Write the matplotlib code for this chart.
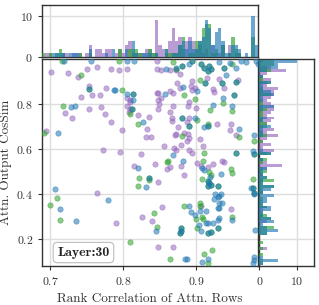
import numpy as np
import matplotlib
matplotlib.use("Agg")
import matplotlib.pyplot as plt

plt.rcParams['font.family'] = ['cmr10', 'DejaVu Serif']
plt.rcParams['axes.formatter.use_mathtext'] = True
plt.rcParams['mathtext.fontset'] = 'cm'

purple = [
    (0.701,0.944),(0.725,0.936),(0.738,0.920),(0.750,0.954),(0.764,0.964),(0.784,0.957),(0.753,0.880),
    (0.777,0.870),(0.743,0.832),(0.757,0.840),(0.769,0.839),(0.753,0.776),(0.770,0.787),(0.720,0.761),
    (0.776,0.757),(0.730,0.738),(0.783,0.721),(0.695,0.681),(0.773,0.597),
    (0.847,0.990),(0.794,0.950),(0.806,0.954),(0.846,0.957),(0.852,0.951),(0.865,0.950),(0.873,0.950),
    (0.878,0.932),(0.874,0.895),(0.878,0.870),(0.806,0.828),(0.810,0.818),(0.846,0.850),(0.848,0.848),
    (0.852,0.828),(0.865,0.858),(0.869,0.848),(0.849,0.801),(0.805,0.791),(0.810,0.776),(0.848,0.779),
    (0.869,0.791),(0.808,0.765),(0.821,0.751),(0.835,0.744),(0.865,0.766),(0.867,0.736),(0.867,0.724),
    (0.799,0.684),(0.833,0.690),(0.876,0.700),(0.871,0.662),(0.873,0.665),(0.884,0.670),(0.831,0.654),
    (0.839,0.655),(0.856,0.613),(0.796,0.588),(0.825,0.576),(0.870,0.606),(0.873,0.594),(0.880,0.616),
    (0.895,0.902),(0.893,0.880),(0.898,0.872),(0.895,0.862),(0.915,0.914),(0.923,0.866),(0.925,0.854),
    (0.932,0.910),(0.939,0.870),(0.958,0.905),(0.891,0.809),(0.889,0.791),(0.900,0.781),(0.890,0.740),
    (0.888,0.722),(0.929,0.712),(0.948,0.710),(0.946,0.684),(0.889,0.668),(0.891,0.650),(0.888,0.636),
    (0.905,0.643),(0.955,0.661),(0.909,0.613),(0.891,0.596),(0.895,0.584),(0.936,0.547),
    (0.765,0.403),(0.791,0.273),(0.815,0.524),(0.844,0.533),(0.860,0.510),(0.864,0.519),(0.879,0.526),
    (0.883,0.484),(0.848,0.455),(0.826,0.300),(0.853,0.344),(0.840,0.280),(0.848,0.163),(0.869,0.163),
    (0.902,0.539),(0.907,0.524),(0.916,0.521),(0.923,0.533),(0.939,0.544),(0.907,0.347),(0.948,0.332),
    (0.810,0.810),(0.848,0.820),
]
blue = [
    (0.719,0.991),(0.756,0.990),(0.753,0.868),(0.787,0.862),(0.729,0.785),(0.734,0.791),(0.711,0.672),
    (0.805,0.990),(0.815,0.990),(0.859,0.957),(0.873,0.958),(0.881,0.969),(0.882,0.877),(0.789,0.862),
    (0.806,0.843),(0.814,0.843),(0.814,0.818),(0.858,0.846),(0.881,0.740),(0.813,0.779),(0.828,0.720),
    (0.869,0.573),(0.882,0.547),
    (0.890,0.976),(0.895,0.990),(0.907,0.976),(0.911,0.962),(0.918,0.969),(0.916,0.947),(0.920,0.954),
    (0.932,0.987),(0.946,0.984),(0.955,0.962),(0.962,0.991),(0.968,0.987),(0.982,0.991),(0.985,0.976),
    (0.939,0.962),(0.901,0.858),(0.913,0.892),(0.935,0.892),(0.941,0.929),(0.955,0.898),(0.937,0.828),
    (0.952,0.840),(0.924,0.794),(0.950,0.791),(0.899,0.736),(0.890,0.702),(0.911,0.698),(0.916,0.702),
    (0.959,0.690),(0.979,0.661),(0.955,0.584),(0.978,0.591),(0.980,0.579),
    (0.707,0.421),(0.713,0.333),(0.736,0.280),(0.779,0.373),(0.821,0.514),(0.836,0.470),(0.832,0.433),
    (0.845,0.236),(0.879,0.248),(0.880,0.236),(0.878,0.228),(0.885,0.110),
    (0.908,0.514),(0.911,0.507),(0.919,0.474),(0.934,0.489),(0.916,0.459),(0.918,0.448),(0.921,0.440),
    (0.916,0.436),(0.930,0.436),(0.978,0.425),(0.980,0.403),(0.926,0.399),(0.925,0.378),(0.932,0.393),
    (0.934,0.400),(0.930,0.385),(0.932,0.362),(0.935,0.359),(0.930,0.337),(0.932,0.337),(0.891,0.347),
    (0.893,0.321),(0.898,0.307),(0.905,0.324),(0.914,0.326),(0.914,0.273),(0.904,0.262),(0.907,0.236),
    (0.916,0.270),(0.923,0.270),(0.930,0.284),(0.932,0.292),(0.930,0.248),(0.921,0.233),(0.916,0.226),
    (0.950,0.284),(0.981,0.240),(0.917,0.110),(0.908,0.099),(0.980,0.121),(0.980,0.107),(0.978,0.092),
    (0.888,0.110),(0.976,0.425),(0.980,0.399),
]
green = [
    (0.716,0.991),(0.742,0.929),(0.753,0.868),(0.718,0.790),(0.692,0.672),
    (0.795,0.990),(0.869,0.987),(0.873,0.955),(0.881,0.969),(0.798,0.862),(0.814,0.843),(0.884,0.839),
    (0.813,0.779),(0.810,0.757),(0.881,0.740),(0.820,0.712),(0.881,0.658),(0.861,0.547),
    (0.895,0.990),(0.907,0.976),(0.911,0.962),(0.918,0.969),(0.916,0.947),(0.920,0.954),(0.950,0.976),
    (0.939,0.962),(0.906,0.905),(0.913,0.892),(0.935,0.892),(0.955,0.898),(0.899,0.821),(0.937,0.806),
    (0.952,0.840),(0.949,0.769),(0.919,0.772),(0.901,0.729),(0.890,0.702),(0.916,0.710),(0.916,0.702),
    (0.959,0.654),(0.979,0.636),(0.911,0.581),(0.955,0.584),(0.980,0.579),(0.909,0.547),
    (0.710,0.381),(0.700,0.351),(0.713,0.284),(0.809,0.185),(0.860,0.544),(0.822,0.470),(0.820,0.436),
    (0.836,0.470),(0.835,0.462),(0.843,0.317),(0.846,0.255),(0.879,0.248),(0.880,0.236),(0.878,0.228),
    (0.884,0.347),(0.864,0.111),
    (0.918,0.499),(0.921,0.484),(0.948,0.510),(0.950,0.495),(0.908,0.465),(0.916,0.459),(0.918,0.448),
    (0.921,0.440),(0.916,0.436),(0.930,0.436),(0.978,0.425),(0.980,0.403),(0.905,0.362),(0.906,0.347),
    (0.900,0.288),(0.908,0.300),(0.910,0.288),(0.902,0.251),(0.930,0.248),(0.921,0.233),(0.916,0.226),
    (0.950,0.300),(0.922,0.151),(0.911,0.133),(0.916,0.092),(0.978,0.465),
]

groups = [("purple", purple, "#9467bd"), ("green", green, "#2ca02c"), ("blue", blue, "#1f77b4")]
x_ticks = [0.7, 0.8, 0.9]
y_ticks = [0.2, 0.4, 0.6, 0.8]
hist_ticks = [0, 10]
xlim = (0.689, 0.985)
ylim = (0.08, 1.0)

W, H = 319, 305
fig = plt.figure(figsize=(W/100, H/100), dpi=100)

def fr(x0, y0, x1, y1):
    return [x0/W, 1 - y1/H, (x1-x0)/W, (y1-y0)/H]

ax = fig.add_axes(fr(42, 59, 258, 266))
axt = fig.add_axes(fr(42, 5, 258, 57.3), sharex=ax)
axr = fig.add_axes(fr(259.3, 59, 314, 266), sharey=ax)

spine_c = '#333333'
grid_c = '#dddddd'
for a in (ax, axt, axr):
    a.grid(True, color=grid_c, linewidth=1.0, zorder=0)
    a.set_axisbelow(True)
    for s in a.spines.values():
        s.set_color(spine_c)
        s.set_linewidth(1.0)
    a.tick_params(colors='#333333', labelcolor='#333333', labelsize=8.5, length=3, width=0.8)

xbins = np.linspace(0.689, 0.985, 66)
ybins = np.linspace(0.085, 0.995, 70)
for name, pts, c in groups:
    arr = np.array(pts)
    ax.scatter(arr[:, 0], arr[:, 1], s=15, color=c, alpha=0.55, linewidths=0.5, zorder=3)
    axt.hist(arr[:, 0], bins=xbins, color=c, alpha=0.65, zorder=3)
    axr.hist(arr[:, 1], bins=ybins, color=c, alpha=0.65, orientation='horizontal', zorder=3)

ax.set_xlim(*xlim)
ax.set_ylim(*ylim)
ax.set_xticks(x_ticks)
ax.set_yticks(y_ticks)
axt.set_ylim(0, 12.6)
axt.set_yticks(hist_ticks)
axr.set_xlim(0, 14.6)
axr.set_xticks(hist_ticks)
plt.setp(axt.get_xticklabels(), visible=False)
plt.setp(axr.get_yticklabels(), visible=False)
axt.tick_params(axis='x', length=0)
axr.tick_params(axis='y', length=0)

ax.set_xlabel("Rank Correlation of Attn. Rows", fontsize=9.5, color='#333333', labelpad=4)
ax.set_ylabel("Attn. Output CosSim", fontsize=9.5, color='#333333', labelpad=3)

ax.text(0.192, 0.065, "Layer:30", transform=ax.transAxes, ha='center', va='center',
        fontsize=10, family=['cmb10', 'DejaVu Serif'], color='#222222', zorder=5,
        bbox=dict(boxstyle='round,pad=0.3', facecolor='white', edgecolor='#bbbbbb', linewidth=0.8))

fig.savefig("out.png", dpi=100)
